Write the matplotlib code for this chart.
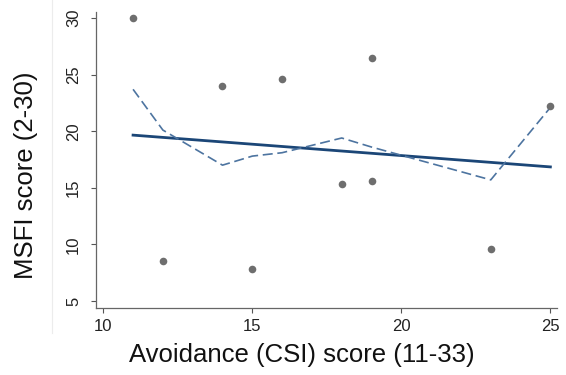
import numpy as np
import matplotlib
matplotlib.use("Agg")
import matplotlib.pyplot as plt
from matplotlib.lines import Line2D

plt.rcParams['font.family'] = ['Liberation Sans', 'DejaVu Sans']

# Data
avoidance = [11, 12, 14, 15, 16, 18, 19, 19, 23, 25]
msfi = [30.0, 8.5, 24.0, 7.8, 24.6, 15.3, 26.5, 15.6, 9.6, 22.2]
smooth_x = [11, 12, 14, 15, 16, 18, 19, 23, 25]
smooth_y = [23.7, 20.1, 17.0, 17.8, 18.1, 19.4, 18.6, 15.7, 22.1]
xticks = [10, 15, 20, 25]
yticks = [5, 10, 15, 20, 25, 30]

W, H = 566, 375
fig = plt.figure(figsize=(W / 100, H / 100), dpi=100)
ax = fig.add_axes([0.169, 0.178, 0.815, 0.79])

# faint graph-region border seen in the reference
fig.add_artist(Line2D([52 / W, 52 / W], [1 - 333 / H, 1.0], transform=fig.transFigure,
                      color='#ececec', lw=0.8))

ax.scatter(avoidance, msfi, s=30, color='#6e6e6e', zorder=3, linewidths=0)

slope, intercept = np.polyfit(avoidance, msfi, 1)
fx = np.array([min(avoidance), max(avoidance)])
ax.plot(fx, intercept + slope * fx, color='#1b4677', lw=2.0, zorder=2)
ax.plot(smooth_x, smooth_y, color='#4d74a0', lw=1.2, ls=(0, (6, 2.8)), zorder=2)

ax.set_xlim(9.745, 25.22)
ax.set_ylim(4.36, 30.53)
ax.set_xticks(xticks)
ax.set_yticks(yticks)
ax.tick_params(axis='both', direction='out', length=3.6, width=0.8, color='#555555',
               labelsize=12, labelcolor='#222222')
ax.tick_params(axis='y', pad=7)
ax.tick_params(axis='x', pad=4)
for lab in ax.get_yticklabels():
    lab.set_rotation(90)
    lab.set_va('center')

for s in ['top', 'right']:
    ax.spines[s].set_visible(False)
for s in ['left', 'bottom']:
    ax.spines[s].set_color('#666666')
    ax.spines[s].set_linewidth(0.9)

ax.set_xlabel('Avoidance (CSI) score (11-33)', fontsize=18.5, color='#111111')
ax.set_ylabel('MSFI score (2-30)', fontsize=18.5, color='#111111')
ax.xaxis.set_label_coords(0.446, -0.1185)
ax.yaxis.set_label_coords(-0.124, 0.448)

fig.savefig('out.png', dpi=100)
